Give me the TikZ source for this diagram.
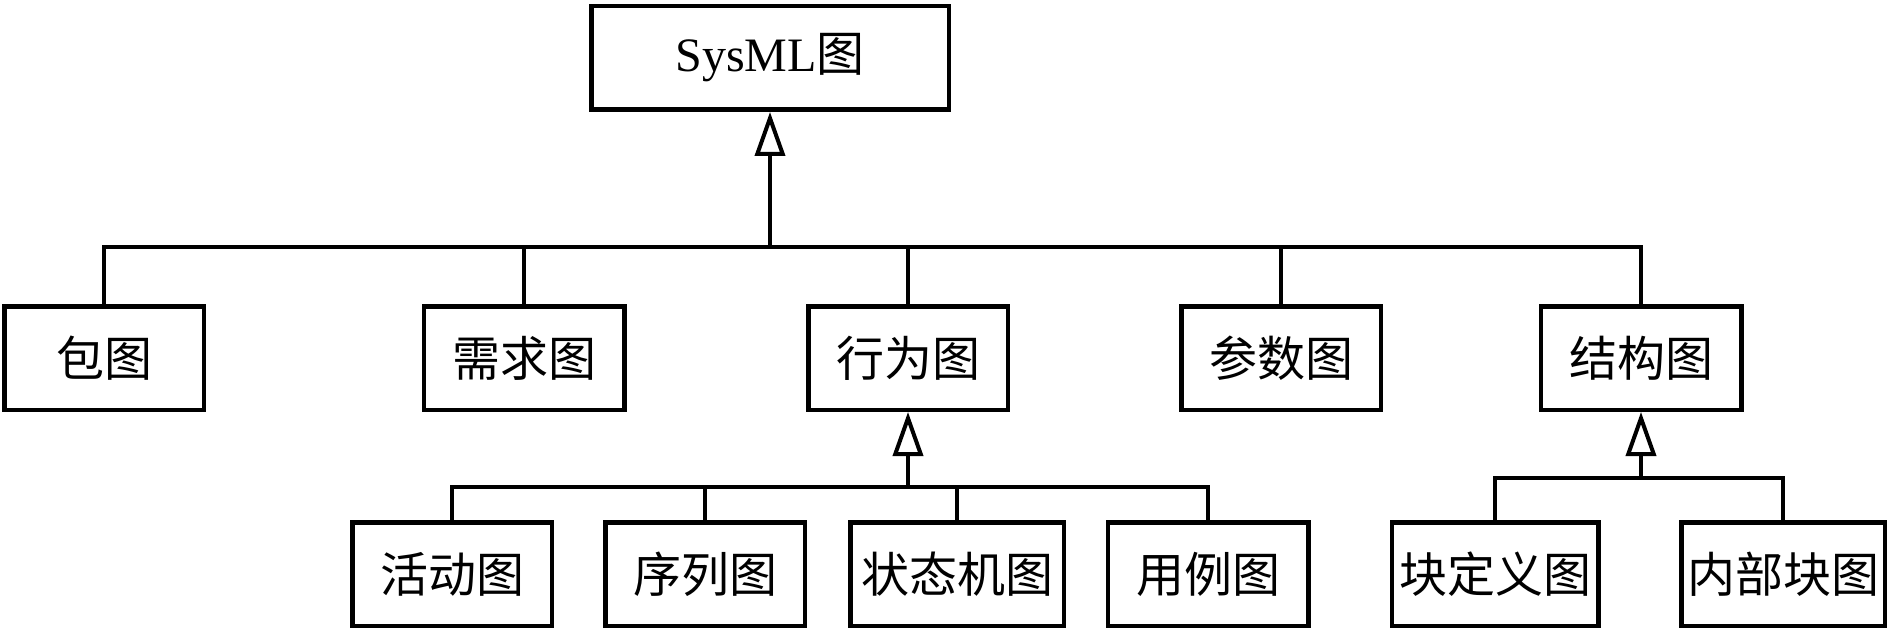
\documentclass[tikz,border=0pt]{standalone}
\usepackage{fontspec}
\setmainfont{Liberation Serif}
\newfontfamily\cjk{Noto Sans CJK SC}
\usetikzlibrary{arrows.meta}
\begin{document}
\begin{tikzpicture}[x=1pt,y=1pt,
  box/.style={draw, line width=4.5pt, minimum height=103.5pt, inner sep=0pt, font=\fontsize{48}{56}\selectfont\cjk},
  conn/.style={line width=4pt},
  gen/.style={line width=4pt, -{Triangle[open, length=44pt, width=30pt]}}]
\useasboundingbox (0,0) rectangle (1890,633);
% top
\node[box, minimum width=357.5pt, font=\fontsize{48}{56}\selectfont] (sysml) at (770,575) {SysML{\cjk 图}};
% level 2
\node[box, minimum width=199.5pt] (pkg) at (104,275) {包图};
\node[box, minimum width=200.5pt] (req) at (524,275) {需求图};
\node[box, minimum width=199.5pt] (beh) at (908,275) {行为图};
\node[box, minimum width=199.5pt] (par) at (1281,275) {参数图};
\node[box, minimum width=200.5pt] (str) at (1641,275) {结构图};
% level 3
\node[box, minimum width=199.5pt] (act) at (452,59) {活动图};
\node[box, minimum width=199.5pt] (seq) at (705,59) {序列图};
\node[box, minimum width=213.5pt] (stm) at (957,59) {状态机图};
\node[box, minimum width=200.5pt] (uc) at (1208,59) {用例图};
\node[box, minimum width=206.5pt] (bdd) at (1495,59) {块定义图};
\node[box, minimum width=203.5pt] (ibd) at (1783,59) {内部块图};
% buses
\coordinate (b0) at (770,386);
\coordinate (b1) at (908,146);
\coordinate (b2) at (1641,155);
% main bus
\draw[conn] (pkg.north) -- (pkg.north |- b0) -- (str.north |- b0) -- (str.north);
\draw[conn] (req.north) -- (req.north |- b0);
\draw[conn] (beh.north) -- (beh.north |- b0);
\draw[conn] (par.north) -- (par.north |- b0);
\draw[gen] (b0) -- (sysml.south);
% behaviour bus
\draw[conn] (act.north) -- (act.north |- b1) -- (uc.north |- b1) -- (uc.north);
\draw[conn] (seq.north) -- (seq.north |- b1);
\draw[conn] (stm.north) -- (stm.north |- b1);
\draw[gen] (b1) -- (beh.south);
% structure bus
\draw[conn] (bdd.north) -- (bdd.north |- b2) -- (ibd.north |- b2) -- (ibd.north);
\draw[gen] (b2) -- (str.south);
\end{tikzpicture}
\end{document}
